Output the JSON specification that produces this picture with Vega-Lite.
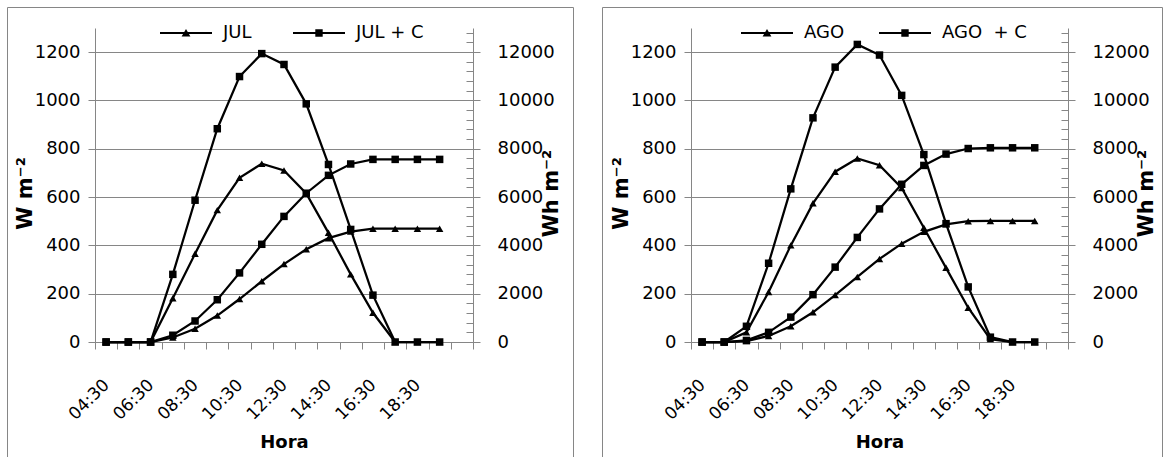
{
  "$schema": "https://vega.github.io/schema/vega-lite/v6.json",
  "padding": {"left": 0, "top": 6, "right": 0, "bottom": 0},
  "autosize": {"type": "pad"},
  "background": "white",
  "spacing": 29,
  "bounds": "flush",
  "resolve": {"scale": {"shape": "independent", "x": "independent", "y": "independent"}, "legend": {"shape": "independent"}},
  "config": {
    "font": "DejaVu Sans",
    "view": {"stroke": "#868686", "strokeWidth": 1},
    "axis": {
      "domainColor": "#868686", "tickColor": "#868686", "gridColor": "#868686",
      "domainWidth": 1, "tickWidth": 1, "gridWidth": 1, "gridOpacity": 1,
      "labelColor": "black", "titleColor": "black",
      "labelFont": "DejaVu Sans", "titleFont": "DejaVu Sans",
      "labelFontSize": 18, "titleFontSize": 20, "titleFontWeight": "bold"
    },
    "legend": {"labelFont": "DejaVu Sans", "labelFontSize": 18, "labelColor": "black", "padding": 0},
    "line": {"color": "black", "strokeWidth": 2.25, "clip": false},
    "point": {"color": "black", "filled": true, "opacity": 1, "size": 56, "clip": false}
  },
  "datasets": {
    "jul": [
      {"hora": "04:30", "serie": "JUL", "w": 0, "wh": 0},
      {"hora": "05:30", "serie": "JUL", "w": 0, "wh": 0},
      {"hora": "06:30", "serie": "JUL", "w": 0, "wh": 0},
      {"hora": "07:30", "serie": "JUL", "w": 181, "wh": 185},
      {"hora": "08:30", "serie": "JUL", "w": 365, "wh": 550},
      {"hora": "09:30", "serie": "JUL", "w": 546, "wh": 1095},
      {"hora": "10:30", "serie": "JUL", "w": 680, "wh": 1780},
      {"hora": "11:30", "serie": "JUL", "w": 738, "wh": 2515},
      {"hora": "12:30", "serie": "JUL", "w": 710, "wh": 3225},
      {"hora": "13:30", "serie": "JUL", "w": 615, "wh": 3840},
      {"hora": "14:30", "serie": "JUL", "w": 452, "wh": 4300},
      {"hora": "15:30", "serie": "JUL", "w": 280, "wh": 4570},
      {"hora": "16:30", "serie": "JUL", "w": 121, "wh": 4690},
      {"hora": "17:30", "serie": "JUL", "w": 0, "wh": 4690},
      {"hora": "18:30", "serie": "JUL", "w": 0, "wh": 4690},
      {"hora": "19:30", "serie": "JUL", "w": 0, "wh": 4690},
      {"hora": "04:30", "serie": "JUL + C", "w": 0, "wh": 0},
      {"hora": "05:30", "serie": "JUL + C", "w": 0, "wh": 0},
      {"hora": "06:30", "serie": "JUL + C", "w": 0, "wh": 0},
      {"hora": "07:30", "serie": "JUL + C", "w": 280, "wh": 280},
      {"hora": "08:30", "serie": "JUL + C", "w": 587, "wh": 870},
      {"hora": "09:30", "serie": "JUL + C", "w": 883, "wh": 1750},
      {"hora": "10:30", "serie": "JUL + C", "w": 1099, "wh": 2860},
      {"hora": "11:30", "serie": "JUL + C", "w": 1194, "wh": 4045},
      {"hora": "12:30", "serie": "JUL + C", "w": 1149, "wh": 5200},
      {"hora": "13:30", "serie": "JUL + C", "w": 986, "wh": 6160},
      {"hora": "14:30", "serie": "JUL + C", "w": 735, "wh": 6900},
      {"hora": "15:30", "serie": "JUL + C", "w": 466, "wh": 7370},
      {"hora": "16:30", "serie": "JUL + C", "w": 194, "wh": 7560},
      {"hora": "17:30", "serie": "JUL + C", "w": 0, "wh": 7560},
      {"hora": "18:30", "serie": "JUL + C", "w": 0, "wh": 7560},
      {"hora": "19:30", "serie": "JUL + C", "w": 0, "wh": 7560}
    ],
    "ago": [
      {"hora": "04:30", "serie": "AGO", "w": 0, "wh": 0},
      {"hora": "05:30", "serie": "AGO", "w": 0, "wh": 0},
      {"hora": "06:30", "serie": "AGO", "w": 40, "wh": 40},
      {"hora": "07:30", "serie": "AGO", "w": 207, "wh": 250},
      {"hora": "08:30", "serie": "AGO", "w": 400, "wh": 655},
      {"hora": "09:30", "serie": "AGO", "w": 574, "wh": 1230},
      {"hora": "10:30", "serie": "AGO", "w": 705, "wh": 1945},
      {"hora": "11:30", "serie": "AGO", "w": 760, "wh": 2695},
      {"hora": "12:30", "serie": "AGO", "w": 732, "wh": 3440},
      {"hora": "13:30", "serie": "AGO", "w": 638, "wh": 4070},
      {"hora": "14:30", "serie": "AGO", "w": 473, "wh": 4560},
      {"hora": "15:30", "serie": "AGO", "w": 307, "wh": 4870},
      {"hora": "16:30", "serie": "AGO", "w": 142, "wh": 5000},
      {"hora": "17:30", "serie": "AGO", "w": 12, "wh": 5010},
      {"hora": "18:30", "serie": "AGO", "w": 0, "wh": 5010},
      {"hora": "19:30", "serie": "AGO", "w": 0, "wh": 5010},
      {"hora": "04:30", "serie": "AGO\u00a0 + C", "w": 0, "wh": 0},
      {"hora": "05:30", "serie": "AGO\u00a0 + C", "w": 0, "wh": 0},
      {"hora": "06:30", "serie": "AGO\u00a0 + C", "w": 65, "wh": 65},
      {"hora": "07:30", "serie": "AGO\u00a0 + C", "w": 326, "wh": 400},
      {"hora": "08:30", "serie": "AGO\u00a0 + C", "w": 634, "wh": 1030},
      {"hora": "09:30", "serie": "AGO\u00a0 + C", "w": 928, "wh": 1960},
      {"hora": "10:30", "serie": "AGO\u00a0 + C", "w": 1138, "wh": 3100},
      {"hora": "11:30", "serie": "AGO\u00a0 + C", "w": 1232, "wh": 4330},
      {"hora": "12:30", "serie": "AGO\u00a0 + C", "w": 1188, "wh": 5510},
      {"hora": "13:30", "serie": "AGO\u00a0 + C", "w": 1021, "wh": 6530},
      {"hora": "14:30", "serie": "AGO\u00a0 + C", "w": 776, "wh": 7310},
      {"hora": "15:30", "serie": "AGO\u00a0 + C", "w": 490, "wh": 7780},
      {"hora": "16:30", "serie": "AGO\u00a0 + C", "w": 228, "wh": 8010},
      {"hora": "17:30", "serie": "AGO\u00a0 + C", "w": 20, "wh": 8040},
      {"hora": "18:30", "serie": "AGO\u00a0 + C", "w": 0, "wh": 8040},
      {"hora": "19:30", "serie": "AGO\u00a0 + C", "w": 0, "wh": 8040}
    ]
  },
  "hconcat": [
    {
      "width": 566,
      "height": 450,
      "data": {"name": "jul"},
      "resolve": {"scale": {"y": "independent", "shape": "independent"}, "legend": {"shape": "independent"}},
      "layer": [
        {
          "layer": [
            {
              "mark": "line",
              "encoding": {
                "x": {"field": "hora", "type": "ordinal",
                  "scale": {"type": "band", "domain": ["04:30","05:30","06:30","07:30","08:30","09:30","10:30","11:30","12:30","13:30","14:30","15:30","16:30","17:30","18:30","19:30","20:30"], "range": [88, 466], "paddingInner": 0, "paddingOuter": 0},
                  "axis": {"title": "Hora", "orient": "bottom", "offset": -115, "tickBand": "extent", "tickSize": 7, "grid": false,
                    "labelAngle": -45, "labelAlign": "right", "labelBaseline": "middle", "labelPadding": 33, "labelFontSize": 17,
                    "labelExpr": "indexof(['04:30','06:30','08:30','10:30','12:30','14:30','16:30','18:30'], datum.value) >= 0 ? datum.value : ''",
                    "titleY": 91, "titleBaseline": "top", "titleFontSize": 18}},
                "y": {"field": "w", "type": "quantitative",
                  "scale": {"domain": [0, 1300], "nice": false, "range": [335, 21]},
                  "axis": {"orient": "left", "offset": -88, "values": [0,200,400,600,800,1000,1200], "format": "d", "tickSize": 7, "labelPadding": 8, "grid": true,
                    "title": "W m⁻²", "titleAngle": -90, "titleX": -70, "titleY": 186, "titleAlign": "center", "titleBaseline": "middle", "titleFontSize": 21}},
                "detail": {"field": "serie"}
              }
            },
            {
              "transform": [{"filter": "indexof(datum.serie, '+') < 0"}],
              "mark": {"type": "point", "shape": "triangle-up"},
              "encoding": {"x": {"field": "hora", "type": "ordinal"}, "y": {"field": "w", "type": "quantitative"}}
            },
            {
              "transform": [{"filter": "indexof(datum.serie, '+') >= 0"}],
              "mark": {"type": "point", "shape": "square"},
              "encoding": {"x": {"field": "hora", "type": "ordinal"}, "y": {"field": "w", "type": "quantitative"}}
            },
            {
              "mark": {"type": "point", "opacity": 0},
              "encoding": {
                "x": {"field": "hora", "type": "ordinal"},
                "y": {"field": "w", "type": "quantitative"},
                "shape": {"field": "serie", "type": "nominal",
                  "scale": {"domain": ["JUL", "JUL + C"], "range": ["M-2.6,-0.11H2.6V0.11H-2.6ZM0,-0.4L0.44,0.36L-0.44,0.36Z", "M-2.6,-0.11H2.6V0.11H-2.6ZM-0.37,-0.37H0.37V0.37H-0.37Z"]},
                  "legend": {"orient": "none", "legendX": 169, "legendY": 16, "direction": "horizontal", "title": null,
                    "symbolSize": 400, "symbolOpacity": 1, "symbolStrokeWidth": 0, "symbolFillColor": "black", "symbolStrokeColor": "black",
                    "labelOffset": 27, "columnPadding": 41}}
              }
            }
          ]
        },
        {
          "resolve": {"axis": {"y": "independent"}},
          "layer": [
            {
              "mark": "line",
              "encoding": {
                "x": {"field": "hora", "type": "ordinal"},
                "y": {"field": "wh", "type": "quantitative",
                  "scale": {"domain": [0, 13000], "nice": false, "range": [335, 21]},
                  "axis": {"orient": "right", "offset": -100, "values": [0,2000,4000,6000,8000,10000,12000], "format": "d", "tickSize": 7, "labelPadding": 17, "grid": false,
                    "title": "Wh m⁻²", "titleAngle": -90, "titleX": 78, "titleY": 186, "titleAlign": "center", "titleBaseline": "middle", "titleFontSize": 21}},
                "detail": {"field": "serie"}
              }
            },
            {
              "transform": [{"filter": "indexof(datum.serie, '+') < 0"}],
              "mark": {"type": "point", "shape": "triangle-up"},
              "encoding": {
                "x": {"field": "hora", "type": "ordinal"},
                "y": {"field": "wh", "type": "quantitative",
                  "axis": {"orient": "right", "offset": -100, "values": [0,400,800,1200,1600,2000,2400,2800,3200,3600,4000,4400,4800,5200,5600,6000,6400,6800,7200,7600,8000,8400,8800,9200,9600,10000,10400,10800,11200,11600,12000,12400,12800],
                    "tickSize": -7, "labels": false, "domain": false, "grid": false, "title": null}}
              }
            },
            {
              "transform": [{"filter": "indexof(datum.serie, '+') >= 0"}],
              "mark": {"type": "point", "shape": "square"},
              "encoding": {
                "x": {"field": "hora", "type": "ordinal"},
                "y": {"field": "wh", "type": "quantitative", "axis": null}
              }
            }
          ]
        }
      ]
    },
    {
      "width": 560,
      "height": 450,
      "data": {"name": "ago"},
      "resolve": {"scale": {"y": "independent", "shape": "independent"}, "legend": {"shape": "independent"}},
      "layer": [
        {
          "layer": [
            {
              "mark": "line",
              "encoding": {
                "x": {"field": "hora", "type": "ordinal",
                  "scale": {"type": "band", "domain": ["04:30","05:30","06:30","07:30","08:30","09:30","10:30","11:30","12:30","13:30","14:30","15:30","16:30","17:30","18:30","19:30","20:30"], "range": [89, 466], "paddingInner": 0, "paddingOuter": 0},
                  "axis": {"title": "Hora", "orient": "bottom", "offset": -115, "tickBand": "extent", "tickSize": 7, "grid": false,
                    "labelAngle": -45, "labelAlign": "right", "labelBaseline": "middle", "labelPadding": 33, "labelFontSize": 17,
                    "labelExpr": "indexof(['04:30','06:30','08:30','10:30','12:30','14:30','16:30','18:30'], datum.value) >= 0 ? datum.value : ''",
                    "titleY": 91, "titleBaseline": "top", "titleFontSize": 18}},
                "y": {"field": "w", "type": "quantitative",
                  "scale": {"domain": [0, 1300], "nice": false, "range": [335, 21]},
                  "axis": {"orient": "left", "offset": -89, "values": [0,200,400,600,800,1000,1200], "format": "d", "tickSize": 7, "labelPadding": 8, "grid": true,
                    "title": "W m⁻²", "titleAngle": -90, "titleX": -70, "titleY": 186, "titleAlign": "center", "titleBaseline": "middle", "titleFontSize": 21}},
                "detail": {"field": "serie"}
              }
            },
            {
              "transform": [{"filter": "indexof(datum.serie, '+') < 0"}],
              "mark": {"type": "point", "shape": "triangle-up"},
              "encoding": {"x": {"field": "hora", "type": "ordinal"}, "y": {"field": "w", "type": "quantitative"}}
            },
            {
              "transform": [{"filter": "indexof(datum.serie, '+') >= 0"}],
              "mark": {"type": "point", "shape": "square"},
              "encoding": {"x": {"field": "hora", "type": "ordinal"}, "y": {"field": "w", "type": "quantitative"}}
            },
            {
              "mark": {"type": "point", "opacity": 0},
              "encoding": {
                "x": {"field": "hora", "type": "ordinal"},
                "y": {"field": "w", "type": "quantitative"},
                "shape": {"field": "serie", "type": "nominal",
                  "scale": {"domain": ["AGO", "AGO\u00a0 + C"], "range": ["M-2.6,-0.11H2.6V0.11H-2.6ZM0,-0.4L0.44,0.36L-0.44,0.36Z", "M-2.6,-0.11H2.6V0.11H-2.6ZM-0.37,-0.37H0.37V0.37H-0.37Z"]},
                  "legend": {"orient": "none", "legendX": 155, "legendY": 16, "direction": "horizontal", "title": null,
                    "symbolSize": 400, "symbolOpacity": 1, "symbolStrokeWidth": 0, "symbolFillColor": "black", "symbolStrokeColor": "black",
                    "labelOffset": 27, "columnPadding": 34}}
              }
            }
          ]
        },
        {
          "resolve": {"axis": {"y": "independent"}},
          "layer": [
            {
              "mark": "line",
              "encoding": {
                "x": {"field": "hora", "type": "ordinal"},
                "y": {"field": "wh", "type": "quantitative",
                  "scale": {"domain": [0, 13000], "nice": false, "range": [335, 21]},
                  "axis": {"orient": "right", "offset": -94, "values": [0,2000,4000,6000,8000,10000,12000], "format": "d", "tickSize": 7, "labelPadding": 17, "grid": false,
                    "title": "Wh m⁻²", "titleAngle": -90, "titleX": 78, "titleY": 186, "titleAlign": "center", "titleBaseline": "middle", "titleFontSize": 21}},
                "detail": {"field": "serie"}
              }
            },
            {
              "transform": [{"filter": "indexof(datum.serie, '+') < 0"}],
              "mark": {"type": "point", "shape": "triangle-up"},
              "encoding": {
                "x": {"field": "hora", "type": "ordinal"},
                "y": {"field": "wh", "type": "quantitative",
                  "axis": {"orient": "right", "offset": -94, "values": [0,400,800,1200,1600,2000,2400,2800,3200,3600,4000,4400,4800,5200,5600,6000,6400,6800,7200,7600,8000,8400,8800,9200,9600,10000,10400,10800,11200,11600,12000,12400,12800],
                    "tickSize": -7, "labels": false, "domain": false, "grid": false, "title": null}}
              }
            },
            {
              "transform": [{"filter": "indexof(datum.serie, '+') >= 0"}],
              "mark": {"type": "point", "shape": "square"},
              "encoding": {
                "x": {"field": "hora", "type": "ordinal"},
                "y": {"field": "wh", "type": "quantitative", "axis": null}
              }
            }
          ]
        }
      ]
    }
  ]
}
